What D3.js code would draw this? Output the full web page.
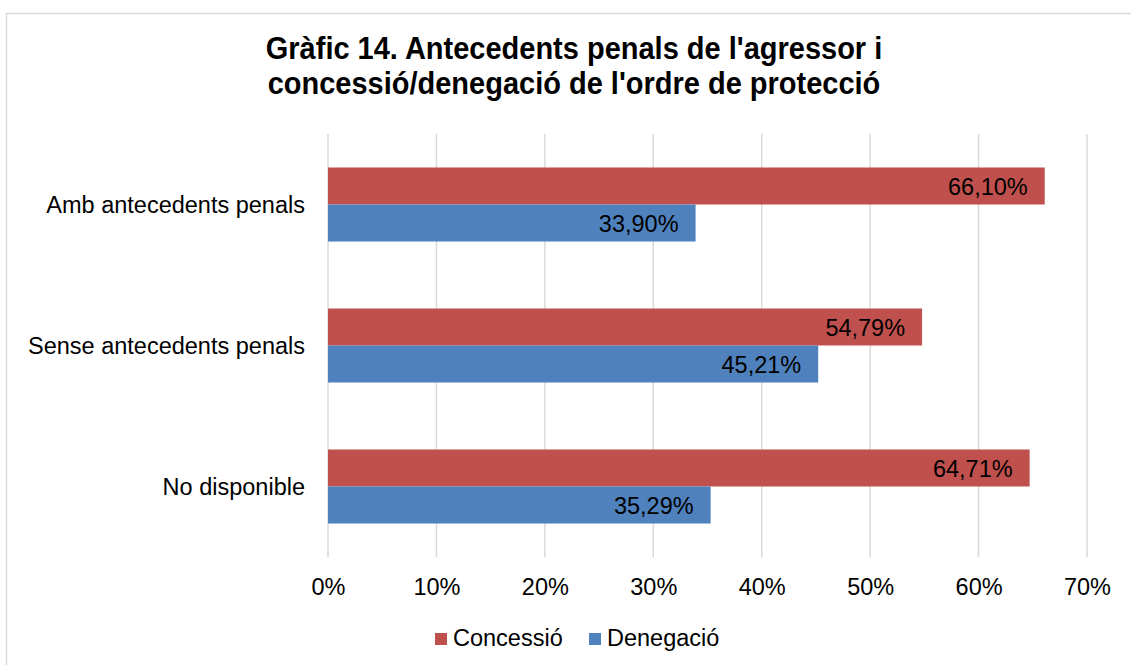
<!DOCTYPE html>
<html>
<head>
<meta charset="utf-8">
<script src="https://cdn.jsdelivr.net/npm/d3@7"></script>
<style>
  body { margin: 0; background: #fff; }
  text { font-family: "Liberation Sans", Arial, sans-serif; fill: #000; }
</style>
</head>
<body>
<div id="chart"></div>
<script>
// data
var categories = ["Amb antecedents penals", "Sense antecedents penals", "No disponible"];
var seriesNames = ["Concessió", "Denegació"];
var concessio = [66.10, 54.79, 64.71];
var denegacio = [33.90, 45.21, 35.29];
var tickValues = [0, 10, 20, 30, 40, 50, 60, 70];
var titleLines = ["Gràfic 14. Antecedents penals de l'agressor i", "concessió/denegació de l'ordre de protecció"];

var W = 1131, H = 665;
var colors = { "Concessió": "#c0504d", "Denegació": "#4f81bd" };
var plot = { left: 328, right: 1087, top: 134, bottom: 557 };
var fmt = function(v) { return v.toFixed(2).replace(".", ",") + "%"; };

var svg = d3.select("#chart").append("svg")
  .attr("width", W)
  .attr("height", H);

// outer frame
svg.append("rect")
  .attr("x", 6.5).attr("y", 13.5)
  .attr("width", 1140).attr("height", 700)
  .attr("fill", "#fff")
  .attr("stroke", "#d9d9d9")
  .attr("stroke-width", 1.5);

// title, a bit taller than wide like the original
svg.append("g")
  .attr("transform", "translate(574,0) scale(1,1.08)")
  .append("text")
  .attr("text-anchor", "middle")
  .style("font-weight", "bold")
  .style("font-size", "29px")
  .selectAll("tspan")
  .data(titleLines)
  .enter().append("tspan")
    .attr("x", 0)
    .attr("y", function(d, i) { return 55 + i * 32; })
    .text(function(d) { return d; });

var x = d3.scaleLinear().domain([0, 70]).range([plot.left, plot.right]);
var y = d3.scaleBand().domain(categories)
  .range([plot.top, plot.bottom])
  .paddingInner(0.475).paddingOuter(0.2375);
var ySub = d3.scaleBand().domain(seriesNames).range([0, y.bandwidth()]);

// gridlines
svg.append("g").selectAll("line")
  .data(tickValues)
  .enter().append("line")
    .attr("x1", function(d) { return x(d); })
    .attr("x2", function(d) { return x(d); })
    .attr("y1", plot.top).attr("y2", plot.bottom)
    .attr("stroke", "#d9d9d9")
    .attr("stroke-width", 1.5);

// x axis labels
var xAxis = d3.axisBottom(x).tickValues(tickValues)
  .tickFormat(function(d) { return d + "%"; })
  .tickSize(0).tickPadding(0);
var gx = svg.append("g")
  .attr("transform", "translate(0," + (plot.bottom) + ")")
  .call(xAxis);
gx.select(".domain").remove();
gx.selectAll("text")
  .attr("y", 38).attr("dy", null)
  .style("font-size", "23.5px")
  .style("font-family", "Liberation Sans, Arial, sans-serif")
  .attr("fill", "#000");

// category labels
var yAxis = d3.axisLeft(y).tickSize(0).tickPadding(0);
var gy = svg.append("g")
  .attr("transform", "translate(" + (plot.left - 23) + ",0)")
  .call(yAxis);
gy.select(".domain").remove();
gy.selectAll("text")
  .attr("dy", "0.37em")
  .style("font-size", "23.5px")
  .style("font-family", "Liberation Sans, Arial, sans-serif")
  .attr("fill", "#000");

var rows = categories.map(function(c, i) {
  return { cat: c, values: [
    { name: seriesNames[0], value: concessio[i] },
    { name: seriesNames[1], value: denegacio[i] }
  ] };
});

var group = svg.append("g").selectAll("g")
  .data(rows)
  .enter().append("g")
    .attr("transform", function(d) { return "translate(0," + y(d.cat) + ")"; });

var bar = group.selectAll("g")
  .data(function(d) { return d.values; })
  .enter().append("g");

bar.append("rect")
  .attr("x", x(0))
  .attr("y", function(d) { return ySub(d.name); })
  .attr("width", function(d) { return x(d.value) - x(0); })
  .attr("height", ySub.bandwidth())
  .attr("fill", function(d) { return colors[d.name]; });

bar.append("text")
  .attr("x", function(d) { return x(d.value) - 17; })
  .attr("y", function(d) { return ySub(d.name) + ySub.bandwidth() / 2; })
  .attr("dy", "0.37em")
  .attr("text-anchor", "end")
  .style("font-size", "23.5px")
  .text(function(d) { return fmt(d.value); });

// legend
var legendX = [435, 589];
var legend = svg.append("g").selectAll("g")
  .data(seriesNames)
  .enter().append("g")
    .attr("transform", function(d, i) { return "translate(" + legendX[i] + ",633)"; });
legend.append("rect")
  .attr("width", 12).attr("height", 12)
  .attr("fill", function(d) { return colors[d]; });
legend.append("text")
  .attr("x", 18).attr("y", 13)
  .style("font-size", "23.5px")
  .text(function(d) { return d; });
</script>
</body>
</html>
